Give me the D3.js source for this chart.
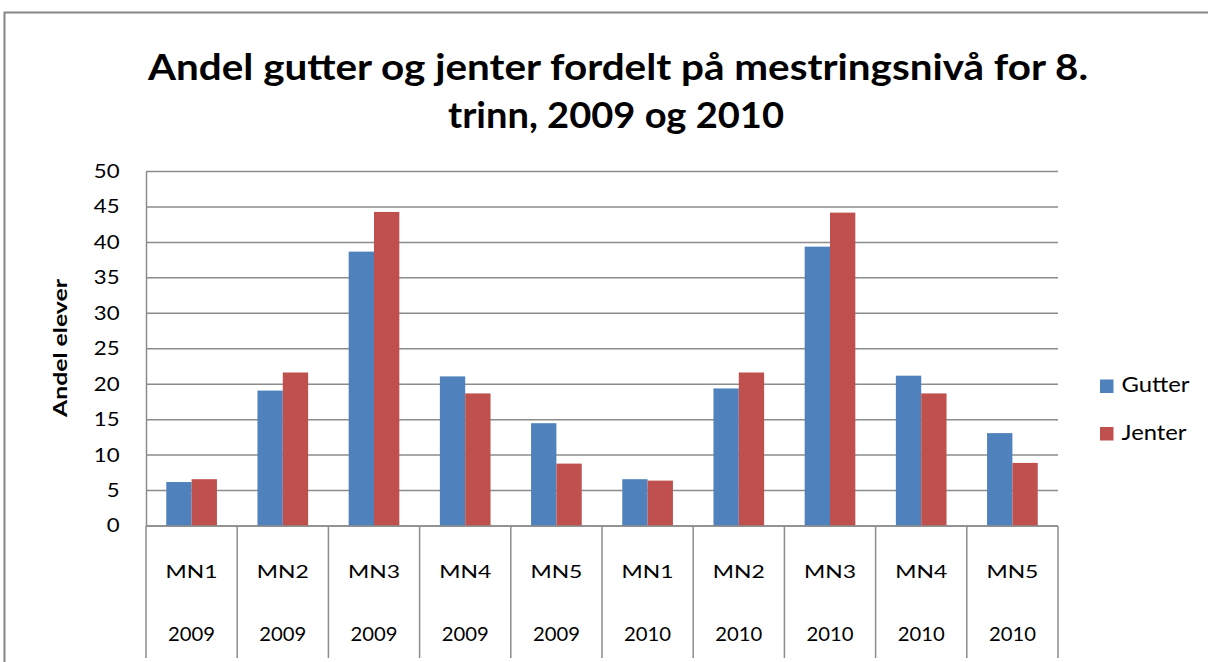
<!DOCTYPE html>
<html>
<head>
<meta charset="utf-8">
<script src="https://cdn.jsdelivr.net/npm/d3@7"></script>
<style>
  body { margin: 0; background: #fff; }
  svg { display: block; font-family: Lato, "Open Sans", sans-serif; }
</style>
</head>
<body>
<svg id="drawing_region"></svg>
<script>
// data
const levels = ["MN1", "MN2", "MN3", "MN4", "MN5", "MN1", "MN2", "MN3", "MN4", "MN5"];
const years = ["2009", "2009", "2009", "2009", "2009", "2010", "2010", "2010", "2010", "2010"];
const seriesNames = ["Gutter", "Jenter"];
const gutter = [6.2, 19.1, 38.7, 21.1, 14.5, 6.6, 19.4, 39.4, 21.2, 13.1];
const jenter = [6.6, 21.65, 44.3, 18.7, 8.8, 6.4, 21.65, 44.2, 18.7, 8.9];
const yTicks = [0, 5, 10, 15, 20, 25, 30, 35, 40, 45, 50];
const colors = ["#4f81bd", "#c0504d"];

const config = {
    width: 1208,
    height: 662,
    margin: {top: 171.5, right: 150, bottom: 136, left: 146}
};

const svg = d3.select('#drawing_region')
    .attr('width', config.width)
    .attr('height', config.height);

// outer chart border
svg.append('rect')
    .attr('x', 4.5).attr('y', 12.5)
    .attr('width', config.width + 10).attr('height', config.height + 10)
    .attr('fill', 'none')
    .attr('stroke', '#868686')
    .attr('stroke-width', 2);

// title
const title = svg.append('g')
    .attr('font-weight', 'bold')
    .attr('font-size', 36)
    .attr('fill', '#000')
    .attr('text-anchor', 'middle');
title.append('text')
    .attr('x', 618).attr('y', 80)
    .attr('textLength', 940).attr('lengthAdjust', 'spacingAndGlyphs')
    .text('Andel gutter og jenter fordelt på mestringsnivå for 8.');
title.append('text')
    .attr('x', 616).attr('y', 128)
    .attr('textLength', 336).attr('lengthAdjust', 'spacingAndGlyphs')
    .text('trinn, 2009 og 2010');

const plotW = 1058 - config.margin.left;
const plotH = 526 - config.margin.top;

const chart = svg.append('g')
    .attr('transform', `translate(${config.margin.left}, ${config.margin.top})`);

const keys = levels.map((d, i) => i);

const x0 = d3.scaleBand()
    .domain(keys)
    .range([0, plotW])
    .padding(0);

const x1 = d3.scaleBand()
    .domain(seriesNames)
    .range([0, x0.bandwidth()])
    .paddingInner(0)
    .paddingOuter(0.8);

const y = d3.scaleLinear()
    .domain([0, 50])
    .range([plotH, 0]);

// gridlines
chart.append('g')
    .selectAll('line')
    .data(yTicks)
    .enter()
    .append('line')
    .attr('x1', 0).attr('x2', plotW)
    .attr('y1', d => y(d)).attr('y2', d => y(d))
    .attr('stroke', '#8c8c8c')
    .attr('stroke-width', 1.5);

// y axis
const yAxis = d3.axisLeft(y)
    .tickValues(yTicks)
    .tickSize(0)
    .tickPadding(22);
chart.append('g')
    .call(yAxis)
    .call(g => g.select('.domain').attr('stroke', '#8c8c8c').attr('stroke-width', 1.5))
    .selectAll('text')
    .attr('font-family', 'Lato, "Open Sans", sans-serif')
    .attr('font-size', 18.5)
    .attr('fill', '#000')
    .attr('transform', 'scale(1.2,1)');

// bars
const groups = chart.selectAll('.grp')
    .data(keys)
    .enter()
    .append('g')
    .attr('class', 'grp')
    .attr('transform', d => `translate(${x0(d)}, 0)`);

groups.selectAll('rect')
    .data(i => [
        {name: seriesNames[0], value: gutter[i]},
        {name: seriesNames[1], value: jenter[i]}
    ])
    .enter()
    .append('rect')
    .attr('x', d => x1(d.name))
    .attr('y', d => y(d.value))
    .attr('width', x1.bandwidth())
    .attr('height', d => plotH - y(d.value))
    .attr('fill', (d, j) => colors[j]);

// x axis line and category dividers
chart.append('line')
    .attr('x1', 0).attr('x2', plotW)
    .attr('y1', plotH).attr('y2', plotH)
    .attr('stroke', '#8c8c8c')
    .attr('stroke-width', 1.5);

const dividers = keys.map(d => x0(d)).concat([plotW]);
chart.append('g')
    .selectAll('line')
    .data(dividers)
    .enter()
    .append('line')
    .attr('x1', d => d).attr('x2', d => d)
    .attr('y1', plotH).attr('y2', plotH + 132)
    .attr('stroke', '#8c8c8c')
    .attr('stroke-width', 1.5);

const xLabels = chart.append('g')
    .attr('text-anchor', 'middle')
    .attr('fill', '#000');

xLabels.selectAll('.lvl')
    .data(keys)
    .enter()
    .append('text')
    .attr('class', 'lvl')
    .attr('x', d => x0(d) + x0.bandwidth() / 2)
    .attr('y', plotH + 51.5)
    .attr('font-size', 17.5)
    .attr('textLength', 52).attr('lengthAdjust', 'spacingAndGlyphs')
    .text(d => levels[d]);

xLabels.selectAll('.yr')
    .data(keys)
    .enter()
    .append('text')
    .attr('class', 'yr')
    .attr('x', d => x0(d) + x0.bandwidth() / 2)
    .attr('y', plotH + 114.5)
    .attr('font-size', 18.5)
    .attr('textLength', 47).attr('lengthAdjust', 'spacingAndGlyphs')
    .text(d => years[d]);

// y axis title
svg.append('text')
    .attr('transform', 'translate(67, 348) rotate(-90)')
    .attr('text-anchor', 'middle')
    .attr('font-weight', 'bold')
    .attr('font-size', 19)
    .attr('textLength', 138).attr('lengthAdjust', 'spacingAndGlyphs')
    .text('Andel elever');

// legend
const legend = svg.append('g')
    .attr('transform', 'translate(1100, 379.5)');

legend.selectAll('rect')
    .data(seriesNames)
    .enter()
    .append('rect')
    .attr('x', 0)
    .attr('y', (d, i) => i * 47.5)
    .attr('width', 13.5).attr('height', 13.5)
    .attr('fill', (d, i) => colors[i]);

legend.selectAll('text')
    .data(seriesNames)
    .enter()
    .append('text')
    .attr('x', 21.5)
    .attr('y', (d, i) => i * 47.5 + 12.5)
    .attr('font-size', 22)
    .attr('textLength', (d, i) => [68, 65][i]).attr('lengthAdjust', 'spacingAndGlyphs')
    .text(d => d);
</script>
</body>
</html>
